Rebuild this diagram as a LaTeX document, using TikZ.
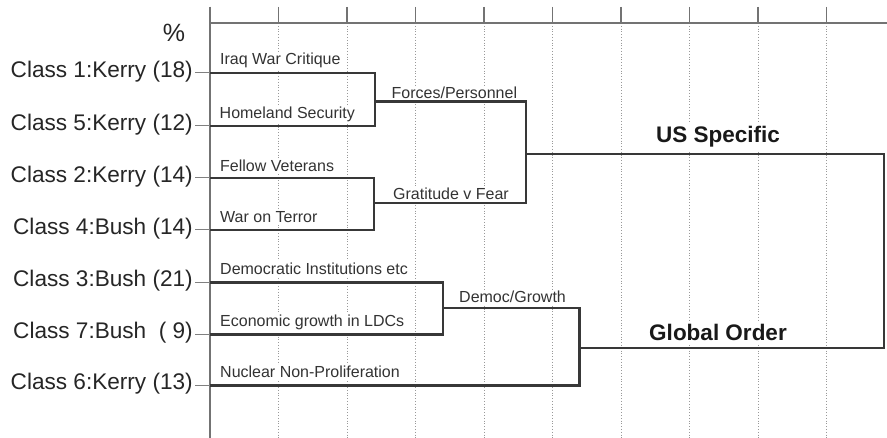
\documentclass[tikz,border=0pt]{standalone}
\usepackage{fontspec}
\setmainfont{Liberation Sans}
\begin{document}
\begin{tikzpicture}[x=1pt,y=-1pt,
  cls/.style={font=\fontsize{22.6}{26}\selectfont, text=black!85, inner sep=0pt, anchor=base east},
  lab/.style={font=\fontsize{16}{19}\selectfont, text=black!80, fill=white, inner sep=1.5pt, anchor=base west},
  grp/.style={font=\bfseries\fontsize{22.5}{27}\selectfont, text=black!90, fill=white, inner sep=3pt, anchor=base},
  axisline/.style={draw=black!55, line width=1.3pt},
  gridline/.style={draw=black!40, dotted, line width=0.8pt},
  stub/.style={draw=black!50, line width=1pt},
  link/.style={draw=black!78, line width=2.1pt, line join=miter}]
\useasboundingbox (0,0) rectangle (887,438);
\fill[white] (0,0) rectangle (887,438);
% grid and axis
\foreach \i in {1,...,9} \draw[gridline] ({210+68.5*\i},23) -- ({210+68.5*\i},438);
\foreach \i in {0,...,9} \draw[axisline] ({210+68.5*\i},7) -- ({210+68.5*\i},23);
\draw[axisline] (210,7) -- (210,438);
\draw[axisline] (210,23) -- (887,23);
\node[font=\fontsize{25}{29}\selectfont, text=black!85, inner sep=0pt] (pct) at (174,32.5) {\%};
% leaf start points
\coordinate (s1) at (210,73);
\coordinate (s5) at (210,126);
\coordinate (s2) at (210,177.7);
\coordinate (s4) at (210,230);
\coordinate (s3) at (210,282.5);
\coordinate (s7) at (210,334.5);
\coordinate (s6) at (210,385.5);
% merge points
\coordinate (m15) at (375,101.5);
\coordinate (m24) at (374,203.3);
\coordinate (mA) at (526,154);
\coordinate (m37) at (443,308.3);
\coordinate (mB) at (579.5,348);
\coordinate (root) at (884,250);
% class labels
\node[cls] (c1) at (193,77.5) {Class 1:Kerry (18)};
\node[cls] (c5) at (193,130.5) {Class 5:Kerry (12)};
\node[cls] (c2) at (193,182.2) {Class 2:Kerry (14)};
\node[cls] (c4) at (193,234.5) {Class 4:Bush (14)};
\node[cls] (c3) at (193,287) {Class 3:Bush (21)};
\node[cls] (c7) at (193,339) {Class 7:Bush\ \ ( 9)};
\node[cls] (c6) at (193,390) {Class 6:Kerry (13)};
\foreach \c/\s in {c1/s1,c5/s5,c2/s2,c4/s4,c3/s3,c7/s7,c6/s6}
  \draw[stub] ([xshift=2pt]\c.base east |- \s) -- (\s);
% branch labels
\node[lab] (l1) at (218.5,65) {Iraq War Critique};
\node[lab] (l5) at (218,119) {Homeland Security};
\node[lab] (l2) at (218.5,172) {Fellow Veterans};
\node[lab] (l4) at (218.5,223) {War on Terror};
\node[lab] (l3) at (218.5,274.5) {Democratic Institutions etc};
\node[lab] (l7) at (218.5,326.7) {Economic growth in LDCs};
\node[lab] (l6) at (218.5,378) {Nuclear Non-Proliferation};
\node[lab] (fp) at (390,99) {Forces/Personnel};
\node[lab] (gf) at (391.5,200) {Gratitude v Fear};
\node[lab] (dg) at (457.5,302.7) {Democ/Growth};
\node[grp] (us) at (718,143) {US Specific};
\node[grp] (go) at (718,341) {Global Order};
% dendrogram
\draw[link] (s1) -| (m15) |- (s5);
\draw[link] (s2) -| (m24) |- (s4);
\draw[link] (m15) -| (mA) |- (m24);
\draw[link] (s3) -| (m37) |- (s7);
\draw[link] (m37) -| (mB) |- (s6);
\draw[link] (mA) -| (root) |- (mB);
\end{tikzpicture}
\end{document}
